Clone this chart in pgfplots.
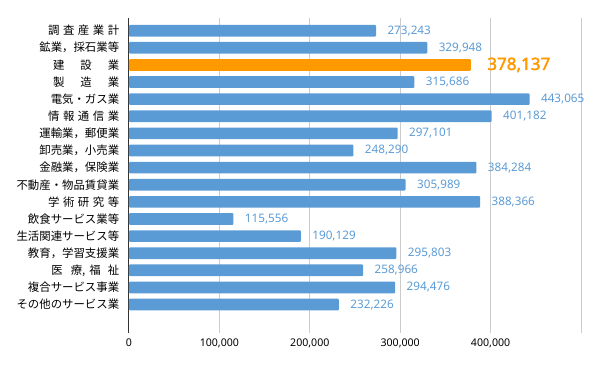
\documentclass[border=0pt]{standalone}
\usepackage{pgfplots}
\pgfplotsset{compat=1.18}
\usepackage{fontspec}
\setmainfont{Noto Sans}
\newfontfamily\cjk{Noto Sans CJK JP}
\newfontfamily\boldnum{Noto Sans}[FakeBold=2.2]
\definecolor{barblue}{HTML}{5B9BD5}
\definecolor{barorange}{HTML}{FF9900}
\newcommand\spA{\hspace{3.5pt}}
\newcommand\spB{\hspace{15.9pt}}
\begin{document}
\begin{tikzpicture}[x=1pt,y=1pt]
\path[use as bounding box] (0,0) rectangle (600,371);
\begin{axis}[
  at={(129pt,38pt)}, anchor=south west,
  scale only axis, width=452pt, height=315pt,
  xbar, bar width=11.7pt, bar shift=0pt,
  xmin=0, xmax=500000, ymin=-0.74, ymax=17.66, y dir=reverse,
  scaled x ticks=false,
  xtick={100000,200000,300000,400000,500000},
  xticklabels={{100,000},{200,000},{300,000},{400,000},{}},
  extra x ticks={0}, extra x tick labels={0},
  extra x tick style={grid style={black!80, line width=1pt}},
  xmajorgrids, grid style={black!20, line width=0.8pt},
  axis line style={draw=none},
  tick style={draw=none},
  ytick={0,...,17},
  yticklabels={
    調\spA 査\spA 産\spA 業\spA 計,
    鉱業，採石業等,
    建\spB 設\spB 業,
    製\spB 造\spB 業,
    電気・ガス業,
    情\spA 報\spA 通\spA 信\spA 業,
    運輸業，郵便業,
    卸売業，小売業,
    金融業，保険業,
    不動産・物品賃貸業,
    学\spA 術\spA 研\spA 究\spA 等,
    飲食サービス業等,
    生活関連サービス等,
    教育，学習支援業,
    医\hspace{8pt}療{,}\hspace{4pt}福\hspace{7pt}祉,
    複合サービス事業,
    その他のサービス業},
  yticklabel style={font=\cjk\fontsize{11.4}{13}\selectfont, xshift=-2pt},
  xticklabel style={font=\fontsize{10.6}{12}\selectfont, yshift=-2pt},
  /pgf/number format/assume math mode=true,
  /pgf/number format/.cd, fixed, 1000 sep={,}, precision=0,
  /pgfplots/.cd,
  point meta=x,
  nodes near coords,
  nodes near coords align={horizontal},
]
\addplot[fill=barblue, draw=none, rounded corners=1pt,
  every node near coord/.append style={text=barblue, font=\fontsize{11.7}{13}\selectfont, xshift=8pt}]
  coordinates {
  (273243,0) (329948,1) (315686,3) (443065,4) (401182,5) (297101,6)
  (248290,7) (384284,8) (305989,9) (388366,10) (115556,11) (190129,12)
  (295803,13) (258966,14) (294476,15) (232226,16)};
\addplot[fill=barorange, draw=none, rounded corners=1pt,
  every node near coord/.append style={text=barorange, font=\boldnum\fontsize{17}{19}\selectfont, xshift=13pt}]
  coordinates {(378137,2)};
\end{axis}
\end{tikzpicture}
\end{document}
